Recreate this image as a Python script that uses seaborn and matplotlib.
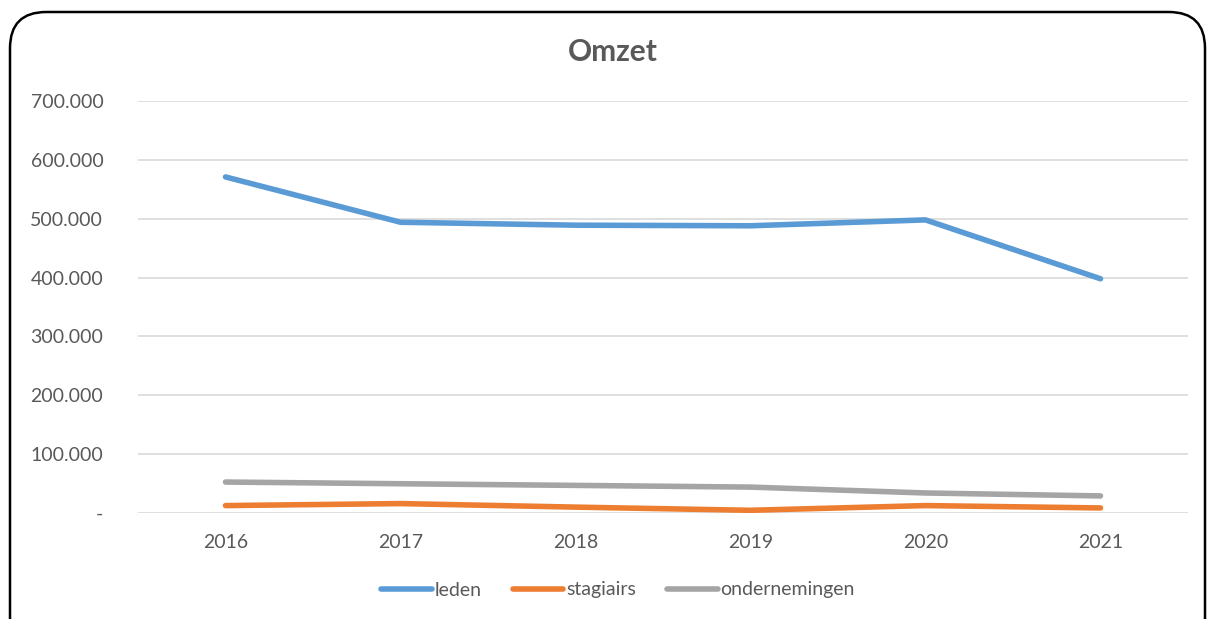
import pandas as pd
import numpy as np
import matplotlib
matplotlib.use("Agg")
import matplotlib.pyplot as plt
from matplotlib.patches import FancyBboxPatch
from matplotlib.ticker import FuncFormatter
import seaborn as sns

years = ["2016", "2017", "2018", "2019", "2020", "2021"]
leden = [571000, 494000, 489000, 488000, 498000, 398000]
stagiairs = [12600, 16000, 10000, 4600, 12600, 8600]
ondernemingen = [52600, 49700, 46900, 44000, 34000, 29000]
series_names = ["leden", "stagiairs", "ondernemingen"]
colors = ["#5B9BD5", "#ED7D31", "#A5A5A5"]

df = pd.DataFrame({"jaar": years * 3,
                   "omzet": leden + stagiairs + ondernemingen,
                   "reeks": np.repeat(series_names, len(years))})

sns.set_theme(style="white")
plt.rcParams["font.family"] = ["Lato", "DejaVu Sans"]
txt = "#595959"

fig = plt.figure(figsize=(12.08, 6.19), dpi=100)
frame = FancyBboxPatch((10 / 1208, -0.1), 1195 / 1208, (619 - 12) / 619 + 0.1,
                       boxstyle="round,pad=0,rounding_size=0.03",
                       transform=fig.transFigure, fill=False,
                       edgecolor="black", linewidth=1.8, mutation_aspect=1208 / 619)
fig.patches.append(frame)

ax = fig.add_axes([138 / 1208, (619 - 513) / 619, 1050 / 1208, 412 / 619])
sns.lineplot(data=df, x="jaar", y="omzet", hue="reeks", palette=colors,
             linewidth=4, ax=ax, sort=False, solid_capstyle="round")

ax.set_xlim(-0.5, 5.5)
ax.set_ylim(0, 700000)
ax.set_yticks(np.arange(0, 700001, 100000))
ax.yaxis.set_major_formatter(FuncFormatter(
    lambda v, p: "-" if v == 0 else f"{int(v):,}".replace(",", ".")))
ax.grid(axis="y", color="#D9D9D9", linewidth=1.2)
ax.grid(axis="x", visible=False)
for s in ax.spines.values():
    s.set_visible(False)
ax.tick_params(axis="both", length=0, labelsize=14, colors=txt)
ax.tick_params(axis="y", pad=25)
ax.tick_params(axis="x", pad=15)
ax.set_xlabel("")
ax.set_ylabel("")

fig.text(613 / 1208, 1 - 52 / 619, "Omzet", ha="center", va="center",
         fontsize=21.5, fontweight="bold", color=txt)

# legend centred on the chart frame, not the plot area
handles, labels = ax.get_legend_handles_labels()
fig.legend(handles, labels, loc="center", bbox_to_anchor=(618 / 1208, 1 - 590 / 619),
           ncol=3, frameon=False, fontsize=14, labelcolor=txt,
           handlelength=2.6, handletextpad=0.15, columnspacing=1.6)
ax.get_legend().remove()

fig.savefig("out.png", dpi=100)
